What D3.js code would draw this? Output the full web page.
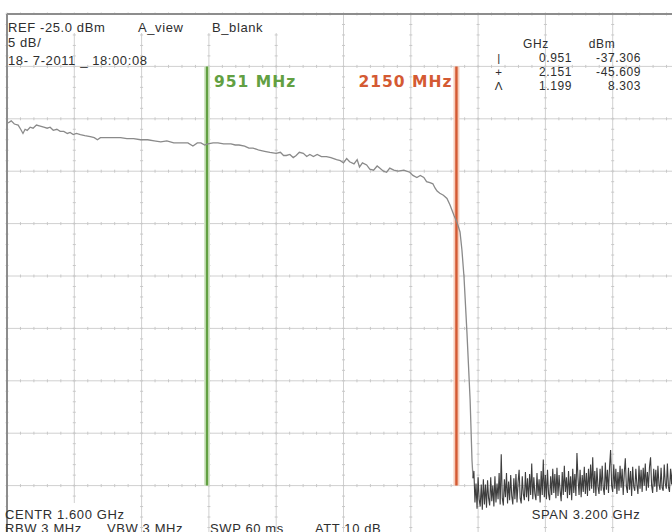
<!DOCTYPE html>
<html><head><meta charset="utf-8">
<script src="https://cdn.jsdelivr.net/npm/d3@7/dist/d3.min.js"></script>
<style>body{margin:0;background:#fff}svg{display:block}</style>
</head><body><svg id="c" width="672" height="532"></svg>
<script>
// ---------- data ----------
const traceGHz = [0.005,0.020,0.035,0.053,0.065,0.076,0.086,0.096,0.110,0.124,0.140,0.158,0.175,0.191,0.205,0.220,0.237,0.253,0.270,0.287,0.300,0.315,0.330,0.349,0.370,0.396,0.415,0.430,0.444,0.475,0.506,0.540,0.570,0.602,0.635,0.669,0.700,0.731,0.760,0.793,0.830,0.860,0.884,0.905,0.922,0.940,0.955,0.980,1.003,1.030,1.065,1.085,1.103,1.130,1.150,1.170,1.185,1.199,1.225,1.250,1.280,1.300,1.315,1.328,1.345,1.361,1.375,1.390,1.409,1.425,1.440,1.457,1.475,1.495,1.519,1.540,1.567,1.585,1.600,1.615,1.629,1.650,1.665,1.676,1.690,1.710,1.725,1.743,1.760,1.772,1.790,1.805,1.820,1.839,1.860,1.887,1.900,1.915,1.930,1.949,1.965,1.982,1.995,2.011,2.025,2.035,2.045,2.058,2.075,2.092,2.106,2.125,2.140,2.154,2.163,2.173,2.187,2.202,2.211,2.216];
const traceDbm = [-35.4,-35.2,-35.5,-35.6,-36.0,-36.4,-36.0,-36.1,-35.8,-35.9,-35.6,-35.7,-35.8,-35.9,-35.8,-36.1,-36.0,-36.2,-36.2,-36.4,-36.3,-36.5,-36.4,-36.5,-36.6,-36.7,-36.8,-37.0,-36.8,-36.8,-36.8,-36.8,-36.9,-36.9,-37.0,-37.0,-37.1,-37.2,-37.1,-37.3,-37.3,-37.3,-37.6,-37.3,-37.3,-37.5,-37.4,-37.3,-37.3,-37.4,-37.4,-37.5,-37.5,-37.6,-37.8,-37.8,-37.9,-38.0,-38.1,-38.2,-38.3,-38.2,-38.5,-38.5,-38.4,-38.7,-38.5,-38.2,-38.3,-38.6,-38.4,-38.6,-38.4,-38.6,-38.6,-38.7,-38.9,-39.0,-39.2,-38.8,-39.1,-39.3,-38.9,-39.6,-39.2,-39.4,-39.8,-39.9,-39.5,-39.7,-40.0,-40.1,-39.7,-39.9,-40.0,-39.9,-40.0,-40.1,-40.4,-40.6,-40.4,-40.6,-41.0,-41.1,-41.2,-41.6,-41.9,-42.1,-42.3,-42.6,-43.2,-44.2,-44.9,-45.8,-47.5,-50.1,-55.4,-61.8,-67.6,-69.3];
// noise floor, one reading every 5 MHz from 2.220 to 3.200 GHz
const noiseGHz = d3.range(2.22, 3.2001, 0.005);
const noiseDbm = [
-68.6,-71.6,-69.8,-72.2,-69.2,-71.3,-72.0,-69.9,-72.3,-69.4,
-71.8,-69.9,-72.1,-69.5,-71.2,-71.9,-69.2,-71.5,-70.0,-72.0,
-69.1,-71.6,-69.8,-71.3,-68.8,-71.8,-67.0,-71.2,-71.9,-69.4,
-71.1,-68.8,-71.7,-69.6,-71.4,-69.0,-71.0,-71.8,-69.3,-71.3,
-68.9,-71.6,-69.7,-68.5,-71.2,-71.7,-69.1,-70.8,-71.4,-68.7,
-71.1,-69.3,-71.5,-68.9,-70.9,-67.9,-71.3,-69.2,-70.8,-71.4,
-68.8,-71.0,-69.4,-71.6,-68.6,-70.9,-67.5,-71.1,-69.0,-71.3,
-68.5,-70.8,-71.4,-69.1,-70.9,-68.4,-70.7,-68.9,-71.2,-68.3,
-71.0,-69.0,-70.5,-71.5,-68.7,-70.9,-68.1,-70.6,-69.2,-71.2,
-68.6,-70.9,-69.1,-71.4,-68.4,-70.7,-68.9,-71.0,-66.9,-69.3,
-70.9,-68.5,-71.1,-69.0,-70.6,-68.2,-70.8,-68.8,-71.0,-68.4,
-70.5,-68.0,-70.3,-67.3,-70.7,-68.6,-71.0,-68.3,-70.1,-70.8,
-68.4,-70.5,-68.1,-70.2,-70.9,-67.8,-70.4,-68.5,-70.7,-68.2,
-66.6,-70.0,-70.6,-68.0,-70.3,-68.4,-70.8,-68.7,-70.5,-68.1,
-70.2,-68.4,-70.9,-68.8,-67.4,-70.1,-70.7,-68.3,-70.4,-68.6,
-71.0,-68.2,-70.1,-70.5,-68.4,-69.9,-70.8,-68.1,-70.3,-68.5,
-70.6,-68.3,-70.0,-67.9,-70.5,-68.7,-70.2,-68.2,-67.3,-70.0,
-70.7,-68.4,-70.1,-68.5,-70.6,-68.1,-69.9,-70.4,-68.3,-70.2,
-70.5,-68.0,-69.8,-70.3,-67.9,-70.1,-70.6,-68.4,-69.9,-68.1,
-70.4,-67.8,-70.0,-68.5,-68.2,-69.8,-68.3];
const markerLineGHz = [0.951, 2.137];
const markerLineLabels = ["951 MHz", "2150 MHz"];
const tableSymbols = ["|", "+", "\u039B"];
const tableGHz = ["0.951", "2.151", "1.199"];
const tableDbm = ["-37.306", "-45.609", "8.303"];
const xGridGHz = [0,0.32,0.64,0.96,1.28,1.60,1.92,2.24,2.56,2.88,3.20];
const yGridDbm = [-25,-30,-35,-40,-45,-50,-55,-60,-65,-70,-75];

// ---------- drawing ----------
const svg = d3.select("#c");
const x = d3.scaleLinear().domain([0, 3.2]).range([7, 680]);
const y = d3.scaleLinear().domain([-25, -75]).range([14, 538]);
const font = "'Liberation Sans', Arial, sans-serif";

const grid = svg.append("g");
const xMinor = d3.range(0, 3.2001, 0.064);
const yMinor = d3.range(-25, -75.001, -1);
yGridDbm.forEach(v => {
  grid.append("line").attr("x1", 7).attr("x2", 680).attr("y1", y(v)).attr("y2", y(v))
    .attr("stroke", "#d0d0d0").attr("stroke-width", 1);
  grid.selectAll(null).data(xMinor).enter().append("line")
    .attr("x1", d => x(d)).attr("x2", d => x(d)).attr("y1", y(v) - 1.5).attr("y2", y(v) + 1.5)
    .attr("stroke", "#c8c8c8").attr("stroke-width", 1);
});
xGridGHz.forEach(v => {
  grid.append("line").attr("x1", x(v)).attr("x2", x(v)).attr("y1", 14).attr("y2", 538)
    .attr("stroke", "#d0d0d0").attr("stroke-width", 1);
  grid.selectAll(null).data(yMinor).enter().append("line")
    .attr("y1", d => y(d)).attr("y2", d => y(d)).attr("x1", x(v) - 1.5).attr("x2", x(v) + 1.5)
    .attr("stroke", "#c8c8c8").attr("stroke-width", 1);
});
svg.append("line").attr("x1", 7).attr("x2", 672).attr("y1", 14).attr("y2", 14).attr("stroke", "#8d8d8d").attr("stroke-width", 2);
svg.append("line").attr("x1", 7).attr("x2", 7).attr("y1", 14).attr("y2", 532).attr("stroke", "#8d8d8d").attr("stroke-width", 2);

svg.append("rect").attr("x", 8).attr("y", 15).attr("width", 290).attr("height", 18).attr("fill", "#fff");
svg.append("rect").attr("x", 8).attr("y", 503).attr("width", 122).attr("height", 29).attr("fill", "#fff");

// marker lines
const mColors = ["#62a042", "#d45a33"];
const mHalo = ["#d3e6c7", "#f6cdbb"];
markerLineGHz.forEach((g, i) => {
  svg.append("line").attr("x1", x(g)).attr("x2", x(g)).attr("y1", y(-30)).attr("y2", y(-70))
    .attr("stroke", mHalo[i]).attr("stroke-width", 6);
  svg.append("line").attr("x1", x(g)).attr("x2", x(g)).attr("y1", y(-30)).attr("y2", y(-70))
    .attr("stroke", mColors[i]).attr("stroke-width", 2.4);
});
svg.append("text").attr("x", x(markerLineGHz[0]) + 7).attr("y", 87)
  .attr("font-family", "'DejaVu Sans', Verdana, sans-serif").attr("font-weight", "bold")
  .attr("font-size", 15.5).attr("letter-spacing", 1).attr("fill", mColors[0]).text(markerLineLabels[0]);
svg.append("text").attr("x", x(markerLineGHz[1]) - 4).attr("y", 87).attr("text-anchor", "end")
  .attr("font-family", "'DejaVu Sans', Verdana, sans-serif").attr("font-weight", "bold")
  .attr("font-size", 15.5).attr("letter-spacing", 1).attr("fill", mColors[1]).text(markerLineLabels[1]);

// traces
const line = d3.line().x(d => x(d[0])).y(d => y(d[1]));
const upper = traceGHz.map((g, i) => [g, traceDbm[i]]);
const noise = [[traceGHz[traceGHz.length-1], traceDbm[traceDbm.length-1]]].concat(noiseGHz.map((g, i) => [g, noiseDbm[i]]));
svg.append("path").attr("d", line(upper)).attr("fill", "none").attr("stroke", "#8a8a8a").attr("stroke-width", 1.3);
svg.append("path").attr("d", line(noise)).attr("fill", "none").attr("stroke", "#3e3e3e").attr("stroke-width", 1.1);

// annotation text
const txt = (s, tx, ty, anchor, size) => svg.append("text").attr("x", tx).attr("y", ty)
  .attr("text-anchor", anchor || "start").attr("font-family", font).attr("font-size", size || 13)
  .attr("letter-spacing", 0.6).attr("fill", "#2e2e2e").text(s);
txt("REF -25.0 dBm", 8, 32);
txt("A_view", 138, 32);
txt("B_blank", 212, 32);
txt("5 dB/", 8, 46.5);
txt("18- 7-2011 _ 18:00:08", 8, 64.5);
txt("CENTR 1.600 GHz", 5, 518.5);
txt("RBW  3 MHz", 5, 533);
txt("VBW  3 MHz", 107, 533);
txt("SWP  60 ms", 210, 533);
txt("ATT  10 dB", 315, 533);
txt("SPAN 3.200 GHz", 586, 518.5, "middle");

// marker table
txt("GHz", 536, 48, "middle", 12);
txt("dBm", 602, 48, "middle", 12);
tableSymbols.forEach((s, i) => {
  const by = 62 + i * 14;
  txt(s, 499, by, "middle", 11.5);
  txt(tableGHz[i], 572, by, "end", 12);
  txt(tableDbm[i], 641, by, "end", 12);
});
</script></body></html>
